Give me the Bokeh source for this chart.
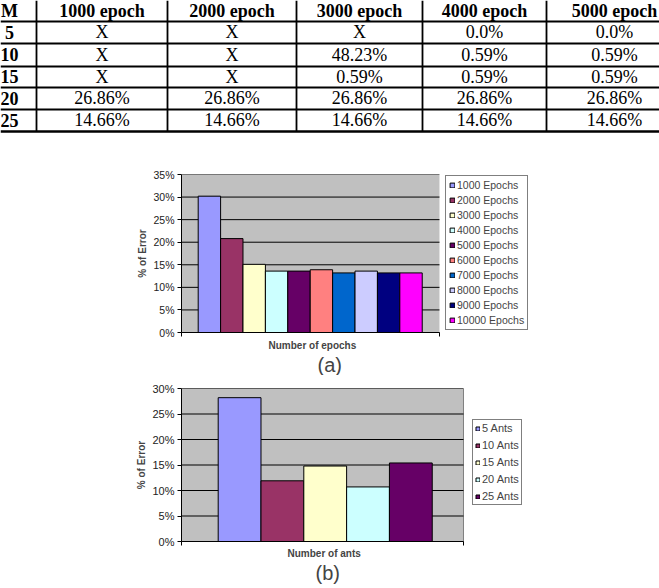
from bokeh.plotting import figure
from bokeh.models import (Range1d, FixedTicker, PrintfTickFormatter, Legend,
                          LegendItem, Title, ColumnDataSource, BoxAnnotation,
                          CustomJSTickFormatter)
from bokeh.embed import file_html
from bokeh.resources import INLINE
from bokeh.core.properties import value

# ---------------- data ----------------
table_header = ["M", "1000 epoch", "2000 epoch", "3000 epoch", "4000 epoch", "5000 epoch"]
m_values = ["5", "10", "15", "20", "25"]
err_1000 = ["X", "X", "X", "26.86%", "14.66%"]
err_2000 = ["X", "X", "X", "26.86%", "14.66%"]
err_3000 = ["X", "48.23%", "0.59%", "26.86%", "14.66%"]
err_4000 = ["0.0%", "0.59%", "0.59%", "26.86%", "14.66%"]
err_5000 = ["0.0%", "0.59%", "0.59%", "26.86%", "14.66%"]

epoch_labels = ["1000 Epochs", "2000 Epochs", "3000 Epochs", "4000 Epochs", "5000 Epochs",
                "6000 Epochs", "7000 Epochs", "8000 Epochs", "9000 Epochs", "10000 Epochs"]
epoch_error = [30.2, 20.8, 15.1, 13.6, 13.6, 13.9, 13.2, 13.6, 13.2, 13.2]
epoch_colors = ["#9999FF", "#993366", "#FFFFCC", "#CCFFFF", "#660066",
                "#FF8080", "#0066CC", "#CCCCFF", "#000080", "#FF00FF"]

ant_labels = ["5 Ants", "10 Ants", "15 Ants", "20 Ants", "25 Ants"]
ant_error = [28.2, 11.9, 14.8, 10.7, 15.4]
ant_colors = ["#9999FF", "#993366", "#FFFFCC", "#CCFFFF", "#660066"]

SERIF = "Liberation Serif"
SANS = "Liberation Sans"

# ---------------- table ----------------
col_edges = [0, 36, 167, 296, 422, 546, 682]
row_edges = [0, 21, 43, 66, 87, 109, 131]

t = figure(width=659, height=150, x_range=Range1d(0, 659), y_range=Range1d(150, 0),
           x_axis_type=None, y_axis_type=None, output_backend="svg",
           toolbar_location=None, min_border=0)
t.grid.visible = False
t.outline_line_color = None

t.segment(x0=[0] * 5, x1=[659] * 5, y0=row_edges[1:-1], y1=row_edges[1:-1],
          line_color="black", line_width=2)
t.segment(x0=[0], x1=[659], y0=[row_edges[-1]], y1=[row_edges[-1]],
          line_color="black", line_width=2.5)
vx = col_edges[1:-1]
t.segment(x0=vx, x1=vx, y0=[0] * len(vx), y1=[row_edges[-1]] * len(vx),
          line_color="black", line_width=1.8)

centers = [(col_edges[j] + col_edges[j + 1]) / 2 for j in range(6)]
centers[0] = 9
rowc = [(row_edges[i] + row_edges[i + 1]) / 2 - 0.5 for i in range(6)]

t.text(x=centers, y=[rowc[0]] * 6, text=table_header, text_font=value(SERIF),
       text_font_style="bold", text_font_size="18px", text_align="center",
       text_baseline="middle", text_color="black")
t.text(x=[centers[0]] * 5, y=rowc[1:], text=m_values, text_font=value(SERIF),
       text_font_style="bold", text_font_size="18px", text_align="center",
       text_baseline="middle", text_color="black")
for j, col in enumerate([err_1000, err_2000, err_3000, err_4000, err_5000]):
    t.text(x=[centers[j + 1]] * 5, y=rowc[1:], text=col, text_font=value(SERIF),
           text_font_size="18px", text_align="center", text_baseline="middle",
           text_color="black")


# ---------------- bar charts ----------------
def make_chart(labels, values, colors, ymax, x0, x_plot_end, x_frame_end,
               frame_h, top, bottom, xlabel, xlabel_offset, xlabel_standoff,
               tag, tag_offset, tag_standoff, legend_loc,
               font_px, outline, leg_pad, leg_glyph, leg_lh, leg_sp):
    frame_w = 530 - 181
    p = figure(frame_width=frame_w, frame_height=frame_h,
               x_range=Range1d(x0, x_frame_end), y_range=Range1d(0, ymax),
               output_backend="svg", toolbar_location=None,
               min_border_left=181, min_border_right=659 - 530,
               min_border_top=top, min_border_bottom=bottom)
    p.background_fill_color = "white"
    p.border_fill_color = "white"
    p.outline_line_color = None
    p.grid.visible = False

    # grey plot area, limited to the chart part of the frame
    p.add_layout(BoxAnnotation(left=x0, right=x_plot_end, bottom=0, top=ymax,
                               fill_color="#C0C0C0", fill_alpha=1,
                               line_color=outline, line_alpha=1 if outline else 0,
                               level="underlay"))
    yt = list(range(0, ymax + 1, 5))
    p.segment(x0=[x0] * len(yt), x1=[x_plot_end] * len(yt), y0=yt, y1=yt,
              line_color="black", line_width=1)

    src = ColumnDataSource(dict(x=[i + 0.5 for i in range(len(values))],
                                v=values, c=colors, lab=labels))
    r = p.vbar(x="x", top="v", width=1, source=src, fill_color="c",
               line_color="black", line_width=1)

    ya = p.yaxis[0]
    ya.ticker = FixedTicker(ticks=yt)
    ya.formatter = PrintfTickFormatter(format="%d%%")
    ya.axis_line_color = "black"
    ya.major_tick_out = 4
    ya.major_tick_in = 0
    ya.minor_tick_line_color = None
    ya.major_label_text_font = SANS
    ya.major_label_text_font_size = font_px
    ya.major_label_text_color = "#222222"
    ya.major_label_standoff = 3
    ya.axis_label = "% of Error"
    ya.axis_label_text_font = SANS
    ya.axis_label_text_font_size = "10px"
    ya.axis_label_text_font_style = "bold"
    ya.axis_label_standoff = 2

    xa = p.xaxis[0]
    xa.bounds = (x0, x_plot_end)
    xa.ticker = FixedTicker(ticks=[x0 + 1e-6, x_plot_end - 1e-6])
    xa.formatter = CustomJSTickFormatter(code="return ''")
    xa.major_label_text_font_size = "1px"
    xa.major_label_standoff = 0
    xa.major_tick_out = 4
    xa.major_tick_in = 0
    xa.minor_tick_line_color = None
    xa.axis_line_color = "black"

    items = [LegendItem(label=l, renderers=[r], index=i) for i, l in enumerate(labels)]
    leg = Legend(items=items, location=legend_loc, border_line_color="black",
                 border_line_width=1, background_fill_color="white",
                 background_fill_alpha=1, label_text_font=SANS,
                 label_text_font_size=font_px, glyph_width=leg_glyph,
                 glyph_height=leg_glyph, label_standoff=2, padding=leg_pad,
                 spacing=leg_sp, label_height=leg_lh, margin=0)
    p.add_layout(leg)

    # x-axis title centred under the grey plot area
    xt = Title(text=xlabel, align="left", offset=xlabel_offset, text_font=SANS,
               text_font_size="10px", text_font_style="bold",
               standoff=xlabel_standoff)
    p.add_layout(xt, "below")

    ttl = Title(text=tag, align="left", offset=tag_offset, text_font=SANS,
                text_font_size="20px", text_font_style="normal",
                standoff=tag_standoff)
    p.add_layout(ttl, "below")
    return p


# (a): 22.4 px per bar; frame 181..530, plot area 181..439
pa = make_chart(epoch_labels, epoch_error, epoch_colors, 35,
                -0.745, 10.77, 10.77 + 91 / 22.4,
                158, 24, 43, "Number of epochs", 87, 2, "(a)", 136, 0,
                (264, 2), "10.5px", None, 3, 6, 12, 3)
# (b): 42.8 px per bar; plot area 181..463
pb = make_chart(ant_labels, ant_error, ant_colors, 30,
                -0.857, 5.73, 5.73 + 67 / 42.8,
                153, 13, 47, "Number of ants", 106, 1, "(b)", 134, 0,
                (291, 36), "11px", "#808080", 2, 5, 12, 5)

open("out.html", "w").write(file_html([t, pa, pb], INLINE))
